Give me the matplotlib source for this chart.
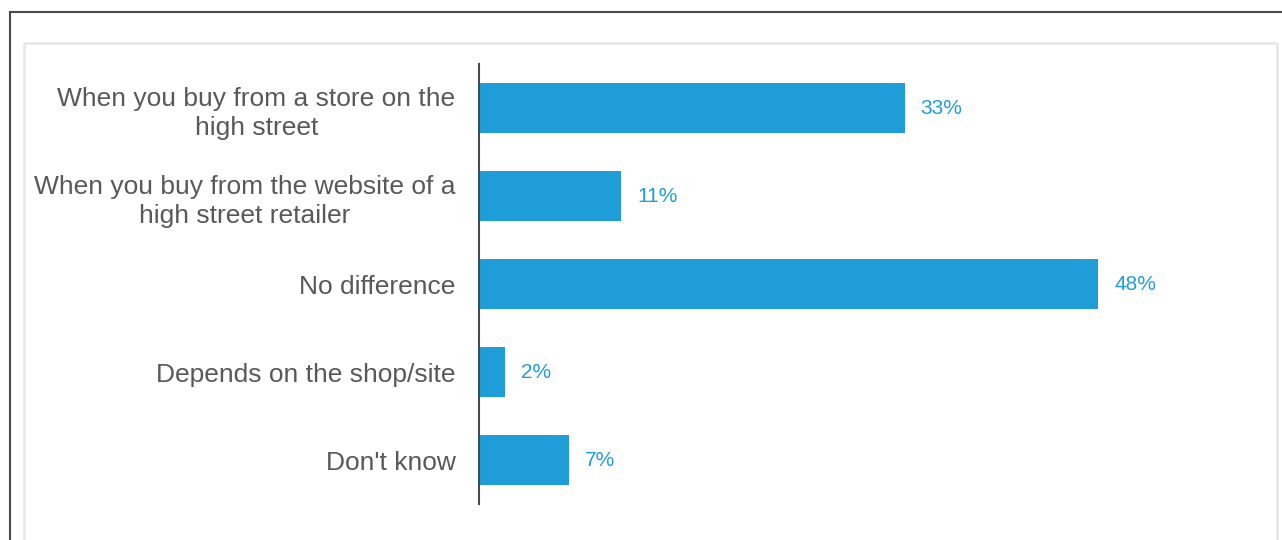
import matplotlib.pyplot as plt
from matplotlib.lines import Line2D
from matplotlib.patches import Rectangle

plt.rcParams['font.family'] = ['Liberation Sans', 'DejaVu Sans']

categories = [
    "When you buy from a store on the\nhigh street",
    "When you buy from the website of a\nhigh street retailer",
    "No difference",
    "Depends on the shop/site",
    "Don't know",
]
values = [33, 11, 48, 2, 7]

blue = '#1f9dd9'
W, H = 1282, 540

fig = plt.figure(figsize=(W / 100, H / 100), dpi=100)

# frame lines round the chart area
fig.add_artist(Line2D([10 / W, 10 / W], [0, 1 - 12 / H], color='#4a4a4a', lw=1.5))
fig.add_artist(Line2D([10 / W, 1], [1 - 12 / H, 1 - 12 / H], color='#4a4a4a', lw=1.5))
fig.add_artist(Rectangle((24 / W, -0.1), (1277 - 24) / W, 1.1 - 43 / H,
                         fill=False, edgecolor='#e6e6e6', lw=1.8))

scale = 12.9  # px per percent
ax = fig.add_axes([479 / W, 36 / H, 60 * scale / W, 440 / H])
y = list(range(len(categories)))
ax.barh(y, values, height=50 / 88, color=blue, left=0)
ax.set_xlim(0, 60)
ax.set_ylim(len(categories) - 0.5, -0.5)

for yi, v in zip(y, values):
    ax.text(v + 16 / scale, yi, f"{v}%", va='center', ha='left',
            color=blue, fontsize=15)

ax.set_yticks(y)
ax.set_yticklabels(categories, fontsize=19, color='#595959',
                   linespacing=1.3, multialignment='center')
ax.tick_params(axis='y', length=0, pad=17)
ax.set_xticks([])
for s in ['top', 'right', 'bottom']:
    ax.spines[s].set_visible(False)
ax.spines['left'].set_color('#4a4a4a')
ax.spines['left'].set_linewidth(1.5)
ax.patch.set_alpha(0)

fig.savefig('out.png', dpi=100)
